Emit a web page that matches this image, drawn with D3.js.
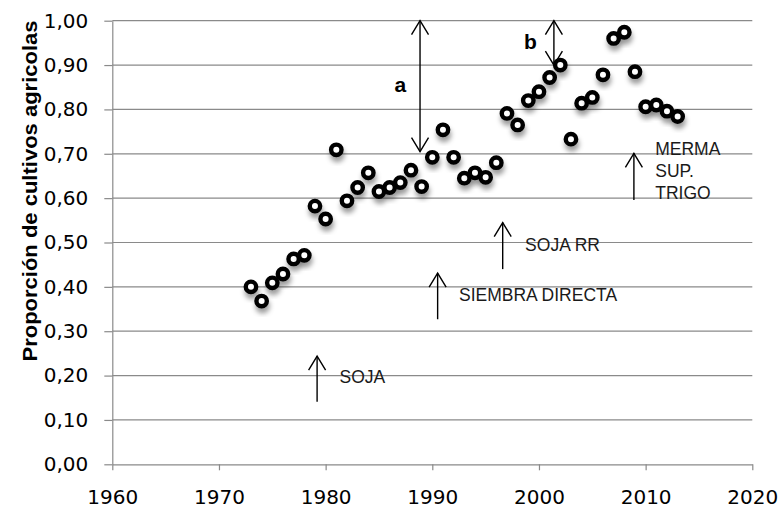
<!DOCTYPE html>
<html>
<head>
<meta charset="utf-8">
<script src="https://cdn.jsdelivr.net/npm/d3@7"></script>
<style>
  body { margin: 0; background: #fff; }
  svg { display: block; }
</style>
</head>
<body>
<svg id="chart"></svg>
<script>
// años y proporción
const years = [1973, 1974, 1975, 1976, 1977, 1978, 1979, 1980, 1981, 1982,
  1983, 1984, 1985, 1986, 1987, 1988, 1989, 1990, 1991, 1992,
  1993, 1994, 1995, 1996, 1997, 1998, 1999, 2000, 2001, 2002,
  2003, 2004, 2005, 2006, 2007, 2008, 2009, 2010, 2011, 2012, 2013];
const proportion = [0.400, 0.368, 0.409, 0.429, 0.463, 0.471, 0.582, 0.553, 0.709, 0.594,
  0.624, 0.657, 0.615, 0.624, 0.635, 0.663, 0.626, 0.692, 0.754, 0.692,
  0.645, 0.657, 0.647, 0.680, 0.791, 0.765, 0.820, 0.840, 0.872, 0.900,
  0.733, 0.814, 0.827, 0.878, 0.960, 0.974, 0.885, 0.806, 0.810, 0.796, 0.784];

const xTicks = [1960, 1970, 1980, 1990, 2000, 2010, 2020];
const yTicks = [0, 0.1, 0.2, 0.3, 0.4, 0.5, 0.6, 0.7, 0.8, 0.9, 1.0];
const yTitle = "Proporción de cultivos agricolas";

// flechas: año, desde, hasta, doble punta
const arrowYears = [1979.2, 1990.5, 1996.6, 2008.9, 1988.85, 2001.4];
const arrowFrom  = [0.141, 0.327, 0.440, 0.596, 0.705, 0.900];
const arrowTo    = [0.244, 0.431, 0.545, 0.701, 1.000, 1.000];
const arrowBoth  = [false, false, false, false, true, true];

// textos de eventos
const eventText = ["SOJA", "SIEMBRA DIRECTA", "SOJA RR", "MERMA", "SUP.", "TRIGO"];
const eventYear = [1981.3, 1992.5, 1998.7, 2010.9, 2010.9, 2010.9];
const eventVal  = [0.183, 0.368, 0.4815, 0.697, 0.648, 0.599];

const letterText = ["a", "b"];
const letterYear = [1987.0, 1999.2];
const letterVal  = [0.853, 0.950];

const W = 782, H = 510;
const margin = { top: 20.7, right: 29.7, bottom: 45.7, left: 112.3 };
const width = W - margin.left - margin.right,
      height = H - margin.top - margin.bottom;

const svg = d3.select("#chart").attr("width", W).attr("height", H);

const defs = svg.append("defs");
const shadow = defs.append("filter").attr("id", "shadow")
  .attr("x", "-100%").attr("y", "-100%").attr("width", "300%").attr("height", "300%");
shadow.append("feDropShadow")
  .attr("dx", 1).attr("dy", 5).attr("stdDeviation", 2.6)
  .attr("flood-color", "#000").attr("flood-opacity", 0.38);

const g = svg.append("g")
  .attr("transform", "translate(" + margin.left + "," + margin.top + ")");

const x = d3.scaleLinear().domain([1960, 2020]).range([0, width]);
const y = d3.scaleLinear().domain([0, 1]).range([height, 0]);

const gridColor = "#8a8a8a";

// líneas horizontales
g.append("g")
  .selectAll("line")
  .data(yTicks.slice(1))
  .enter().append("line")
  .attr("x1", 0).attr("x2", width)
  .attr("y1", d => y(d)).attr("y2", d => y(d))
  .attr("stroke", gridColor).attr("stroke-width", 1.2);

const comma = d => d3.format(".2f")(d).replace(".", ",");

const yAxis = g.append("g")
  .call(d3.axisLeft(y).tickValues(yTicks).tickFormat(comma).tickSize(8).tickSizeOuter(0).tickPadding(16));

const xAxis = g.append("g")
  .attr("transform", "translate(0," + height + ")")
  .call(d3.axisBottom(x).tickValues(xTicks).tickFormat(d3.format("d")).tickSize(6).tickSizeOuter(0).tickPadding(20));

[yAxis, xAxis].forEach(a => {
  a.select(".domain").attr("stroke", gridColor).attr("stroke-width", 1.2);
  a.selectAll(".tick line").attr("stroke", gridColor).attr("stroke-width", 1.2);
  a.selectAll(".tick text")
    .attr("fill", "#000")
    .style("font-family", "'DejaVu Sans', sans-serif")
    .style("font-size", "20px");
});

// título eje Y
svg.append("text")
  .attr("transform", "translate(36.5," + 191 + ") rotate(-90)")
  .attr("text-anchor", "middle")
  .attr("textLength", 341)
  .attr("lengthAdjust", "spacingAndGlyphs")
  .style("font-family", "'Liberation Sans', Arial, sans-serif")
  .style("font-weight", "bold")
  .style("font-size", "19.5px")
  .text(yTitle);

// flechas
const head = 8.5, headLen = 14;
const arrows = g.append("g").attr("stroke", "#000").attr("stroke-width", 1.4).attr("fill", "none");
arrowYears.forEach((yr, i) => {
  const ax = x(yr), y1 = y(arrowFrom[i]), y2 = y(arrowTo[i]);
  arrows.append("line").attr("x1", ax).attr("x2", ax).attr("y1", y1).attr("y2", y2);
  arrows.append("path").attr("d", `M${ax - head},${y2 + headLen}L${ax},${y2}L${ax + head},${y2 + headLen}`);
  if (arrowBoth[i]) {
    arrows.append("path").attr("d", `M${ax - head},${y1 - headLen}L${ax},${y1}L${ax + head},${y1 - headLen}`);
  }
});

// puntos
g.append("g")
  .selectAll("circle")
  .data(years.map((yr, i) => ({ year: yr, value: proportion[i] })))
  .enter().append("circle")
  .attr("cx", d => x(d.year))
  .attr("cy", d => y(d.value))
  .attr("r", 5.2)
  .attr("fill", "#fff")
  .attr("stroke", "#000")
  .attr("stroke-width", 4.4)
  .attr("filter", "url(#shadow)");

// textos de eventos
g.append("g")
  .selectAll("text")
  .data(eventText)
  .enter().append("text")
  .attr("x", (d, i) => x(eventYear[i]))
  .attr("y", (d, i) => y(eventVal[i]))
  .style("font-family", "'Liberation Sans', Arial, sans-serif")
  .style("font-size", "17.5px")
  .attr("fill", "#1a1a1a")
  .text(d => d);

g.append("g")
  .selectAll("text")
  .data(letterText)
  .enter().append("text")
  .attr("x", (d, i) => x(letterYear[i]))
  .attr("y", (d, i) => y(letterVal[i]))
  .attr("dy", "0.28em")
  .attr("text-anchor", "middle")
  .style("font-family", "'Liberation Sans', Arial, sans-serif")
  .style("font-weight", "bold")
  .style("font-size", "21px")
  .text(d => d);
</script>
</body>
</html>
